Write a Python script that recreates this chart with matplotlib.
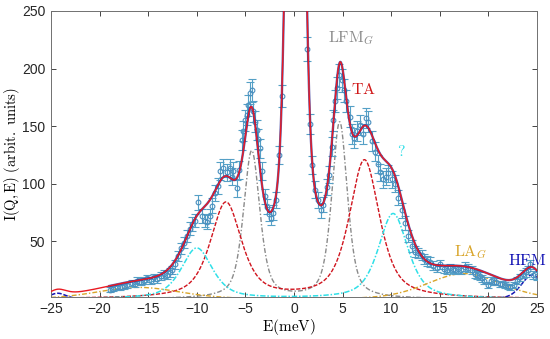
import numpy as np
import matplotlib
matplotlib.use('Agg')
import matplotlib.pyplot as plt

plt.rcParams['mathtext.fontset'] = 'cm'
plt.rcParams['font.family'] = ['Liberation Sans', 'DejaVu Sans']

E_data = [-18.93, -18.6, -18.25, -17.85, -17.5, -17.16, -16.7, -16.36, -16.12, -15.78,
          -15.43, -15.1, -14.74, -14.4, -14.06, -13.72, -13.4, -13.1, -12.8, -12.5,
          -12.2, -11.9, -11.6, -11.3, -11.04, -10.7, -10.45, -10.19, -9.84, -9.5,
          -9.15, -8.9, -8.64, -8.4, -8.13, -7.85, -7.61, -7.27, -6.93, -6.59,
          -6.41, -6.24, -5.9, -5.65, -5.39, -5.21, -5.04, -4.87, -4.7, -4.53,
          -4.36, -4.18, -4.01, -3.84, -3.67, -3.5, -3.25, -2.98, -2.81, -2.6,
          -2.4, -2.13, -1.85, -1.51, -1.2,
          1.37, 1.65, 1.82, 2.16, 2.5, 2.74, 3.0, 3.36, 3.6, 3.88,
          4.05, 4.22, 4.39, 4.66, 4.9, 5.1, 5.4, 5.76, 5.93, 6.17,
          6.45, 6.79, 7.13, 7.41, 7.65, 8.0, 8.33, 8.6, 8.85, 9.2,
          9.46, 9.7, 10.05, 10.4, 10.73, 11.08, 11.4, 11.76, 12.1, 12.45,
          12.8, 13.13, 13.4, 13.65, 14.0, 14.3, 14.7, 15.0, 15.4, 15.7,
          16.05, 16.35, 16.6, 16.9, 17.2, 17.6, 17.9, 18.3, 18.6, 18.85,
          19.1, 19.35, 19.6, 20.0, 20.3, 20.55, 20.8, 21.2, 21.45, 21.7,
          22.0, 22.2, 22.6, 22.9, 23.3, 23.6, 23.85, 24.1, 24.3, 24.6, 25.0]
I_data = [8, 9, 10, 10, 11, 12, 14, 13, 16, 15,
          16, 18, 16, 19, 17, 20, 22, 21, 23, 25,
          30, 37, 44, 49, 55, 61, 65, 68, 84, 72,
          68, 67, 72, 81, 92, 98, 111, 114, 110, 114,
          106, 111, 96, 112, 138, 146, 155, 160, 168, 179,
          181, 163, 154, 147, 139, 131, 111, 89, 80, 74,
          70, 75, 86, 125, 176,
          217, 152, 116, 95, 86, 77, 82, 97, 108, 132,
          155, 172, 183, 194, 190, 181, 172, 158, 143, 140,
          146, 151, 143, 157, 154, 137, 128, 117, 110, 104,
          106, 109, 104, 100, 88, 77, 66, 55, 46, 41,
          40, 38, 35, 33, 32, 29, 27, 30, 26, 25,
          27, 26, 25, 26, 25, 28, 27, 25, 22, 21,
          20, 18, 16, 12, 16, 15, 15, 13, 13, 12,
          11, 10, 12, 16, 19, 22, 23, 25, 30, 21, 20]
I_err = [2.0, 2.2, 2.3, 2.3, 2.4, 2.5, 2.7, 2.6, 2.9, 2.8,
         2.9, 3.1, 2.9, 3.1, 3.0, 3.2, 3.4, 3.3, 3.5, 3.6,
         3.9, 4.4, 4.8, 5.0, 5.3, 5.6, 5.8, 5.9, 6.6, 6.1,
         5.9, 5.9, 6.1, 6.5, 6.9, 7.1, 7.6, 7.7, 7.6, 7.7,
         7.4, 7.6, 7.1, 7.6, 8.5, 8.7, 9.0, 9.1, 9.3, 9.6,
         9.7, 9.2, 8.9, 8.7, 8.5, 8.2, 7.6, 6.8, 6.4, 6.2,
         6.0, 6.2, 6.7, 8.0, 9.6,
         10.6, 8.9, 7.8, 7.0, 6.7, 6.3, 6.5, 7.1, 7.5, 8.3,
         9.0, 9.4, 9.7, 10.0, 9.9, 9.7, 9.4, 9.1, 8.6, 8.5,
         8.7, 8.8, 8.6, 9.0, 8.9, 8.4, 8.1, 7.8, 7.6, 7.3,
         7.4, 7.5, 7.3, 7.2, 6.8, 6.3, 5.8, 5.3, 4.9, 4.6,
         4.6, 4.4, 4.3, 4.1, 4.1, 3.9, 3.7, 3.9, 3.7, 3.6,
         3.7, 3.7, 3.6, 3.7, 3.6, 3.8, 3.7, 3.6, 3.4, 3.3,
         3.2, 3.1, 2.9, 2.5, 2.9, 2.8, 2.8, 2.6, 2.6, 2.5,
         2.4, 2.3, 2.5, 2.9, 3.1, 3.4, 3.5, 3.6, 3.9, 3.3, 3.2]

# ---------------- fitted mode parameters ----------------
# each family: centres (meV), peak heights, half widths, Lorentz fraction
lfm_c, lfm_h, lfm_w, lfm_eta = [-4.35, 4.7], [128, 153], [1.0, 0.95], 0.55
ta_c, ta_h, ta_w, ta_eta = [-7.0, 7.25], [83, 120], [1.9, 1.85], 0.65
q_c, q_h, q_w, q_eta = [-10.0, 10.2], [44, 74], [1.9, 1.8], 0.6
la_c, la_h, la_w, la_eta = [-16.0, 17.5], [10, 22], [5.0, 4.5], 0.2
hfm_c, hfm_h, hfm_w, hfm_eta = [-24.3, 24.5], [5.0, 21], [1.0, 1.3], 0.3
# central (quasi)elastic line: narrow + broad Gaussian parts
el_c, el_h, el_s = [0.15, 0.2], [800, 104], [0.65, 1.9]

E = np.linspace(-25, 25, 3001)


def pv(x, centres, heights, widths, eta):
    out = np.zeros_like(x)
    for c, h, w in zip(centres, heights, widths):
        u = (x - c) / w
        out += h * (eta / (1 + u ** 2) + (1 - eta) * np.exp(-np.log(2) * u ** 2))
    return out


lfm = pv(E, lfm_c, lfm_h, lfm_w, lfm_eta)
ta = pv(E, ta_c, ta_h, ta_w, ta_eta)
qq = pv(E, q_c, q_h, q_w, q_eta)
la = pv(E, la_c, la_h, la_w, la_eta)
hfm = pv(E, hfm_c, hfm_h, hfm_w, hfm_eta)
el = sum(h * np.exp(-(E - c) ** 2 / (2 * s ** 2)) for c, h, s in zip(el_c, el_h, el_s))
total = lfm + ta + qq + la + hfm + el

fig = plt.figure(figsize=(5.5, 3.39), dpi=100)
ax = fig.add_axes([0.0927, 0.1248, 0.8836, 0.8428])

ax.plot(E, lfm, color='#8a8a8a', lw=1.0, ls=(0, (3.5, 1.5, 1, 1.5)))
ax.plot(E, ta, color='#d0141e', lw=1.0, ls=(0, (3, 1.2)))
ax.plot(E, qq, color='#2fe0e8', lw=1.1, ls=(0, (3.5, 1.2, 1, 1.2)))
ax.plot(E, la, color='#d9a52a', lw=1.0, ls=(0, (3.5, 1.5, 1, 1.5)))
ax.plot(E, hfm, color='#1414b4', lw=1.1, ls=(0, (3, 1.2)))

ax.errorbar(E_data, I_data, yerr=I_err, fmt='o', ms=3.4, mfc='none',
            mec='#4a8fbf', mew=0.8, ecolor='#55a0c6', elinewidth=0.8,
            capsize=2.6, capthick=0.8, zorder=3)

mask = (E >= -19.0) & (E <= 25)
ax.plot(E[mask], total[mask], color='#26268e', lw=1.7, alpha=0.75, zorder=4)
ax.plot(E, total, color='#ea1a22', lw=1.0, zorder=5)

# annotations
ax.text(5.85, 226, r'$\mathrm{LFM}_G$', color='#8c8c8c', fontsize=11.5,
        ha='center', va='center')
ax.text(7.2, 182, r'$\mathrm{TA}$', color='#d01818', fontsize=11.5,
        ha='center', va='center')
ax.text(11.0, 128, r'$?$', color='#2fdde6', fontsize=11.5, ha='center', va='center')
ax.text(18.2, 40.5, r'$\mathrm{LA}_G$', color='#d9a52a', fontsize=11.5,
        ha='center', va='center')
ax.text(24.0, 33.5, r'$\mathrm{HFM}$', color='#1414b4', fontsize=11.5,
        ha='center', va='center', clip_on=False)

ax.set_xlim(-25, 25)
ax.set_ylim(2, 250)
ax.set_xticks(np.arange(-25, 26, 5))
ax.set_yticks([50, 100, 150, 200, 250])
ax.tick_params(direction='in', top=True, right=True, length=3.5, width=0.6,
               labelsize=10, colors='#262626', pad=4)
for s in ax.spines.values():
    s.set_color('#707070')
    s.set_linewidth(0.7)

ax.set_xlabel(r'$\mathrm{E(meV)}$', fontsize=11)
ax.set_ylabel(r'$\mathrm{I(Q,E)\ (arbit.\ units)}$', fontsize=10.5)
ax.xaxis.set_label_coords(0.49, -0.07)
ax.yaxis.set_label_coords(-0.06, 0.5)

fig.savefig('out.png', dpi=100)
